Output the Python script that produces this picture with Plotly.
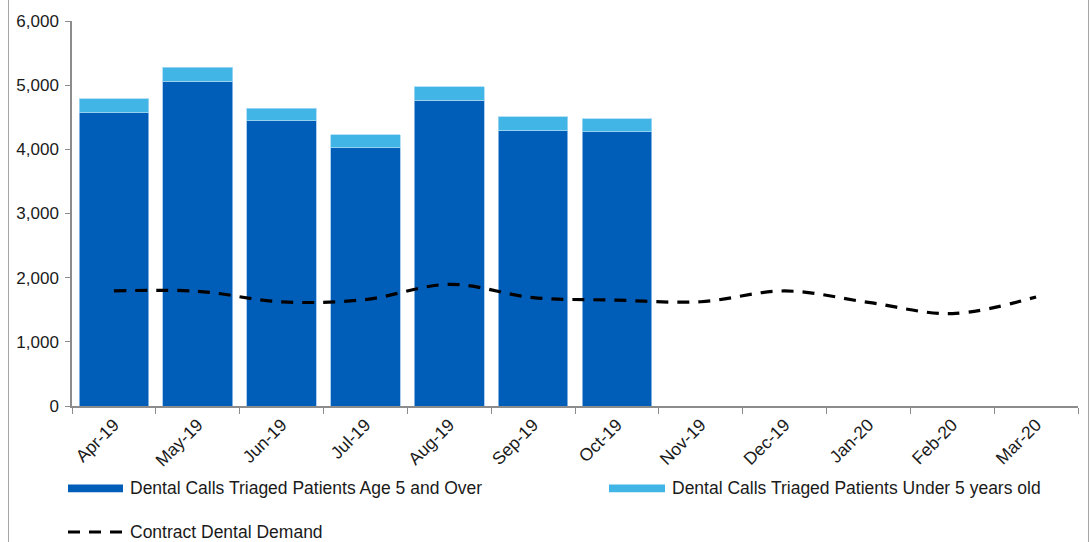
import plotly.graph_objects as go

# Monthly categories for the 2019/20 financial year
months = ["Apr-19", "May-19", "Jun-19", "Jul-19", "Aug-19", "Sep-19",
          "Oct-19", "Nov-19", "Dec-19", "Jan-20", "Feb-20", "Mar-20"]

# Triaged dental calls (data available Apr-Oct)
age5_over = [4571, 5060, 4447, 4023, 4765, 4292, 4277, None, None, None, None, None]
under5 = [221, 222, 190, 201, 212, 217, 201, None, None, None, None, None]

# Contracted dental demand for the full year
contract_demand = [1793, 1788, 1623, 1659, 1896, 1690, 1650, 1625, 1793, 1615, 1440, 1700]

name_over = "Dental Calls Triaged Patients Age 5 and Over"
name_under = "Dental Calls Triaged Patients Under 5 years old"
name_contract = "Contract Dental Demand"

DARK = "#005EB8"
LIGHT = "#41B6E6"
FONT = "Liberation Sans, Arial, sans-serif"
AXIS_GREY = "#8C8C8C"

W, H = 1091, 542
M_L, M_R, M_T, M_B = 72, 13, 18, 136
PLOT_W = W - M_L - M_R
PLOT_H = H - M_T - M_B


def px_x(x):
    return (x - M_L) / PLOT_W


def px_y(y):
    return (H - M_B - y) / PLOT_H


fig = go.Figure()

fig.add_trace(go.Bar(
    x=months, y=age5_over, name=name_over,
    marker=dict(color=DARK, line=dict(color="#9CC3EA", width=0.8)),
    showlegend=False,
))
fig.add_trace(go.Bar(
    x=months, y=under5, name=name_under,
    marker=dict(color=LIGHT, line=dict(color="#A8DAF2", width=0.8)),
    showlegend=False,
))
fig.add_trace(go.Scatter(
    x=months, y=contract_demand, name=name_contract, mode="lines",
    line=dict(color="black", width=3.2, dash="12px,9px", shape="spline", smoothing=1),
    showlegend=False,
))

# Legend keys drawn below the axis
shapes = [
    dict(type="rect", xref="paper", yref="paper",
         x0=px_x(68), x1=px_x(123), y0=px_y(493), y1=px_y(485),
         fillcolor=DARK, line=dict(width=0)),
    dict(type="rect", xref="paper", yref="paper",
         x0=px_x(609), x1=px_x(665), y0=px_y(493), y1=px_y(485),
         fillcolor=LIGHT, line=dict(width=0)),
    dict(type="line", xref="paper", yref="paper",
         x0=px_x(68), x1=px_x(123), y0=px_y(533), y1=px_y(533),
         line=dict(color="black", width=3, dash="12px,9px")),
    # outer frame edges
    dict(type="line", xref="paper", yref="paper",
         x0=px_x(8.5), x1=px_x(8.5), y0=px_y(H + 5), y1=px_y(-5),
         line=dict(color="#A6A6A6", width=1)),
    dict(type="line", xref="paper", yref="paper",
         x0=px_x(1088.5), x1=px_x(1088.5), y0=px_y(H + 5), y1=px_y(-5),
         line=dict(color="#A6A6A6", width=1)),
]

legend_font = dict(family=FONT, size=17.5, color="#1A1A1A")
annotations = [
    dict(text=name_over, x=px_x(128), y=px_y(489), xref="paper", yref="paper",
         xanchor="left", yanchor="middle", showarrow=False, font=legend_font),
    dict(text=name_under, x=px_x(670), y=px_y(489), xref="paper", yref="paper",
         xanchor="left", yanchor="middle", showarrow=False, font=legend_font),
    dict(text=name_contract, x=px_x(128), y=px_y(533), xref="paper", yref="paper",
         xanchor="left", yanchor="middle", showarrow=False, font=legend_font),
]

fig.update_layout(
    width=W, height=H,
    margin=dict(l=M_L, r=M_R, t=M_T, b=M_B),
    barmode="stack", bargap=0.17,
    plot_bgcolor="white", paper_bgcolor="white",
    font=dict(family=FONT, size=17, color="#1A1A1A"),
    shapes=shapes, annotations=annotations,
    showlegend=False,
)

fig.update_xaxes(
    type="category", categoryorder="array", categoryarray=months,
    showline=True, linecolor=AXIS_GREY, linewidth=1.5,
    ticks="outside", tickson="boundaries", ticklen=6, tickcolor=AXIS_GREY,
    tickangle=-45, showgrid=False, zeroline=False,
    tickfont=dict(family=FONT, size=17.5, color="#1A1A1A"),
)
fig.update_yaxes(
    range=[0, 6000], dtick=1000, tickformat=",",
    showline=True, linecolor=AXIS_GREY, linewidth=1.5,
    ticks="outside", ticklen=5, tickcolor=AXIS_GREY,
    showgrid=False, zeroline=False, ticklabelstandoff=3,
    tickfont=dict(family=FONT, size=17, color="#1A1A1A"),
)

fig.write_html("out.html")
